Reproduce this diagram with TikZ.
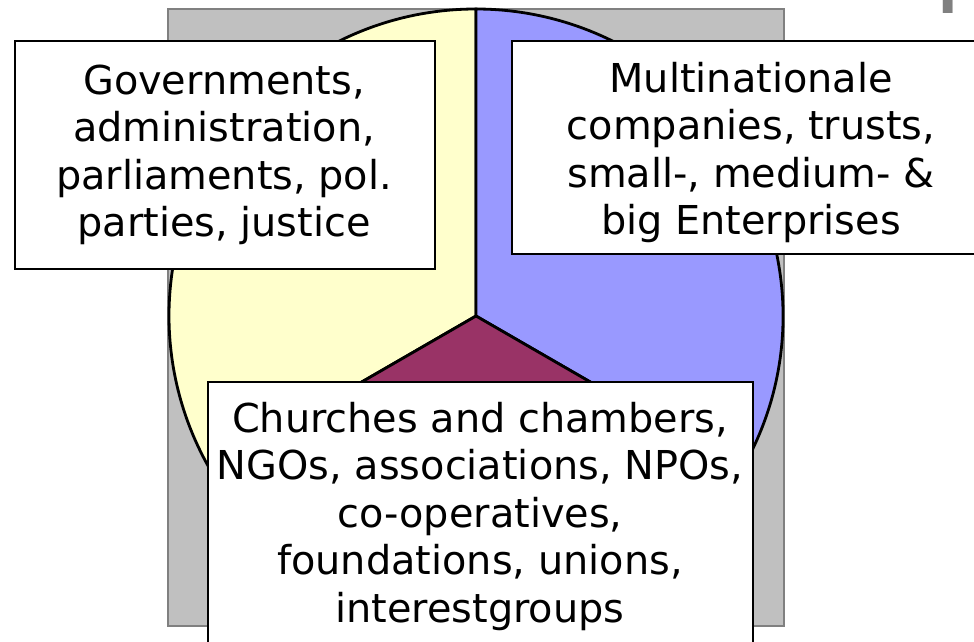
\documentclass[tikz,border=0pt]{standalone}
\usepackage{fontspec}
\setmainfont{DejaVu Sans}
\definecolor{pieyellow}{HTML}{FFFFCC}
\definecolor{pieblue}{HTML}{9999FF}
\definecolor{piemaroon}{HTML}{993366}
\definecolor{plotgray}{HTML}{C0C0C0}
\definecolor{plotborder}{HTML}{808080}
\begin{document}
\begin{tikzpicture}[x=1pt,y=-1pt,
  txt/.style={font=\fontsize{39.8}{47.5}\selectfont, align=center, inner sep=0pt, anchor=north},
  boxstyle/.style={draw=black, line width=1.6pt, fill=white, inner sep=0pt, anchor=north west},
  slice/.style={draw=black, line width=2.8pt, line join=miter}]
\useasboundingbox (0,0) rectangle (974,642);
\clip (0,0) rectangle (974,642);
% plot area
\draw[fill=plotgray, draw=plotborder, line width=2.5pt] (168,9) rectangle (784,626);
% pie
\coordinate (c) at (476,316);
\filldraw[slice, fill=pieyellow] (c) -- ++(90:307pt) arc[start angle=90, end angle=210, radius=307pt] -- cycle;
\filldraw[slice, fill=pieblue] (c) -- ++(-30:307pt) arc[start angle=-30, end angle=90, radius=307pt] -- cycle;
\filldraw[slice, fill=piemaroon] (c) -- ++(210:307pt) arc[start angle=210, end angle=330, radius=307pt] -- cycle;
% title fragment
\node[font=\fontsize{52}{58}\selectfont\bfseries, text=plotborder, anchor=base west, inner sep=0pt] (titlep) at (938.3,14) {P};
% boxes
\node[boxstyle, minimum width=420pt, minimum height=228pt] (govbox) at (14,40) {};
\node[boxstyle, minimum width=480pt, minimum height=213pt] (multibox) at (511,40) {};
\node[boxstyle, minimum width=545pt, minimum height=290pt] (churchbox) at (207,381) {};
% texts
\node[txt] (govtext) at (224,64.4) {Governments,\\administration,\\parliaments, pol.\\parties, justice};
\node[txt] (multitext) at (751,61.8) {Multinationale\\companies, trusts,\\small-, medium- \&\\big Enterprises};
\node[txt] (churchtext) at (480,401.8) {Churches and chambers,\\NGOs, associations, NPOs,\\co-operatives,\\foundations, unions,\\interestgroups};
\end{tikzpicture}
\end{document}
